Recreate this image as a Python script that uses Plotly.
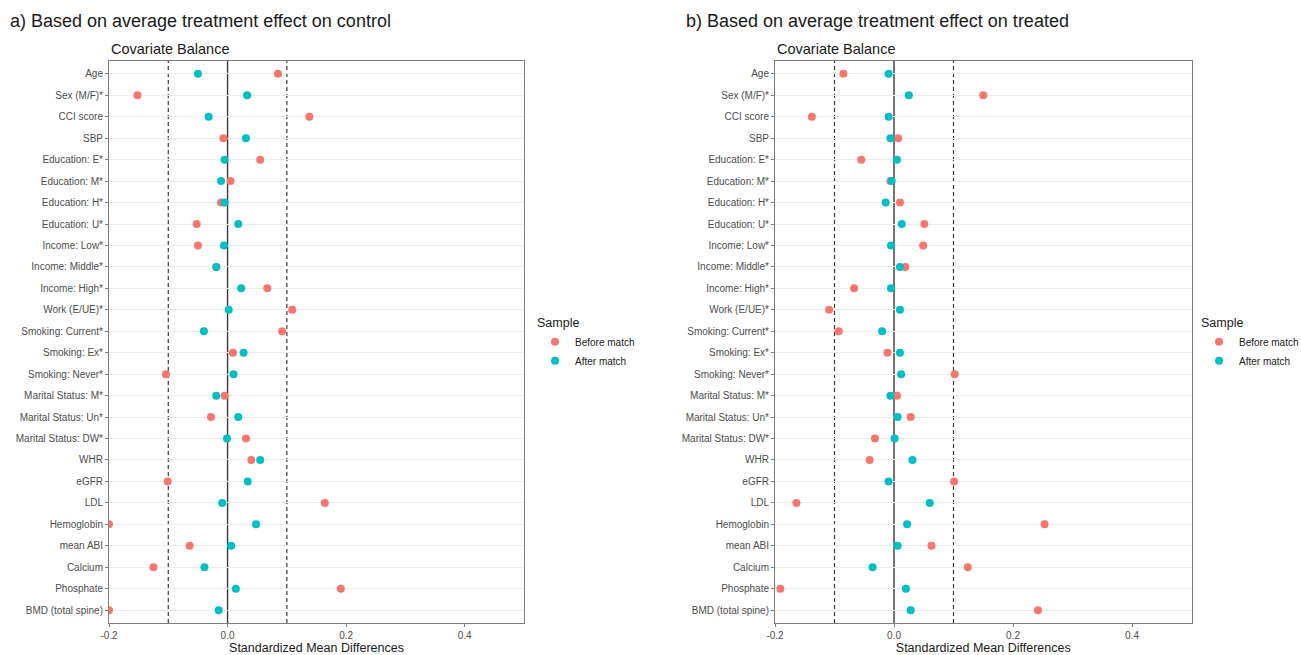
import plotly.graph_objects as go

covariates = ["Age", "Sex (M/F)*", "CCI score", "SBP", "Education: E*", "Education: M*",
              "Education: H*", "Education: U*", "Income: Low*", "Income: Middle*",
              "Income: High*", "Work (E/UE)*", "Smoking: Current*", "Smoking: Ex*",
              "Smoking: Never*", "Marital Status: M*", "Marital Status: Un*",
              "Marital Status: DW*", "WHR", "eGFR", "LDL", "Hemoglobin", "mean ABI",
              "Calcium", "Phosphate", "BMD (total spine)"]

# Panel a) ATC
atc_before = [0.085, -0.152, 0.138, -0.007, 0.055, 0.005, -0.011, -0.052, -0.050, -0.019,
              0.067, 0.109, 0.092, 0.009, -0.104, -0.005, -0.028, 0.031, 0.040, -0.101,
              0.164, -0.200, -0.064, -0.125, 0.191, -0.200]
atc_after = [-0.050, 0.033, -0.032, 0.031, -0.005, -0.011, -0.005, 0.018, -0.006, -0.019,
             0.023, 0.002, -0.040, 0.027, 0.010, -0.019, 0.018, -0.001, 0.055, 0.034,
             -0.009, 0.048, 0.006, -0.039, 0.014, -0.015]

# Panel b) ATT
att_before = [-0.085, 0.150, -0.138, 0.007, -0.055, -0.006, 0.010, 0.051, 0.049, 0.019,
              -0.067, -0.109, -0.093, -0.011, 0.102, 0.005, 0.028, -0.032, -0.041, 0.101,
              -0.164, 0.253, 0.063, 0.124, -0.191, 0.242]
att_after = [-0.009, 0.025, -0.009, -0.006, 0.005, -0.004, -0.014, 0.013, -0.005, 0.010,
             -0.005, 0.010, -0.020, 0.010, 0.012, -0.006, 0.006, 0.001, 0.031, -0.009,
             0.060, 0.022, 0.006, -0.036, 0.020, 0.028]

x_ticks = [-0.2, 0.0, 0.2, 0.4]
x_tick_text = ["-0.2", "0.0", "0.2", "0.4"]
thresholds = [-0.1, 0.1]
series_names = ["Before match", "After match"]
colors = ["#F8766D", "#00BFC4"]

W, H = 1301, 655
FONT = "Liberation Sans, Arial, sans-serif"

fig = go.Figure()

panels = [
    dict(xa="x", ya="y", legend="legend", before=atc_before, after=atc_after),
    dict(xa="x2", ya="y2", legend="legend2", before=att_before, after=att_after),
]
for p in panels:
    for name, vals, col in zip(series_names, [p["before"], p["after"]], colors):
        fig.add_trace(go.Scatter(
            x=vals, y=covariates, mode="markers", name=name,
            marker=dict(color=col, size=8, line=dict(width=0)),
            xaxis=p["xa"], yaxis=p["ya"], legend=p["legend"], cliponaxis=True,
        ))

def px_x(v):
    return v / W

def px_y(v):
    return 1 - v / H

ydom = [px_y(623), px_y(61)]
xdoms = [[px_x(109), px_x(524)], [px_x(775), px_x(1191.5)]]

axis_common = dict(
    showline=True, linecolor="#7f7f7f", linewidth=1, mirror=True,
    ticks="outside", ticklen=3, tickcolor="#7f7f7f", tickwidth=1,
    tickfont=dict(family=FONT, size=10, color="#4D4D4D"),
    zeroline=False, automargin=False,
)

for i, (xa, ya) in enumerate([("xaxis", "yaxis"), ("xaxis2", "yaxis2")]):
    suffix = "" if i == 0 else "2"
    fig.update_layout(**{
        xa: dict(axis_common, domain=xdoms[i], anchor="y" + suffix, range=[-0.2, 0.5],
                 tickvals=x_ticks, ticktext=x_tick_text, showgrid=False,
                 title=dict(text="Standardized Mean Differences",
                            font=dict(family=FONT, size=12.5, color="#1a1a1a"), standoff=1)),
        ya: dict(axis_common, domain=ydom, anchor="x" + suffix, type="category",
                 categoryorder="array", categoryarray=covariates,
                 range=[len(covariates) - 0.4, -0.6],
                 showgrid=True, gridcolor="#EBEBEB", gridwidth=1),
    })
    xref = "x" + suffix
    yref = "y" + suffix + " domain"
    for t in thresholds:
        fig.add_shape(type="line", xref=xref, yref=yref, x0=t, x1=t, y0=0, y1=1,
                      line=dict(color="#3a3a3a", width=1.2, dash="4px,3px"), layer="below")
    fig.add_shape(type="line", xref=xref, yref=yref, x0=0, x1=0, y0=0, y1=1,
                  line=dict(color="#3a3a3a", width=1.4), layer="below")

annotations = [
    dict(text="a) Based on average treatment effect on control", x=px_x(8), y=px_y(21),
         size=18),
    dict(text="b) Based on average treatment effect on treated", x=px_x(684), y=px_y(21),
         size=18),
    dict(text="Covariate Balance", x=px_x(109), y=px_y(48.5), size=14.5),
    dict(text="Covariate Balance", x=px_x(775), y=px_y(48.5), size=14.5),
]
for a in annotations:
    fig.add_annotation(text=a["text"], x=a["x"], y=a["y"], xref="paper", yref="paper",
                       xanchor="left", yanchor="middle", showarrow=False,
                       font=dict(family=FONT, size=a["size"], color="#1a1a1a"))

legend_common = dict(
    title=dict(text="Sample", font=dict(family=FONT, size=12.5, color="#1a1a1a")),
    font=dict(family=FONT, size=10, color="#1a1a1a"),
    bgcolor="rgba(0,0,0,0)", xanchor="left", yanchor="top",
    tracegroupgap=0, itemsizing="trace",
)
fig.update_layout(
    width=W, height=H,
    margin=dict(l=0, r=0, t=0, b=0, autoexpand=False),
    paper_bgcolor="white", plot_bgcolor="white",
    showlegend=True,
    legend=dict(legend_common, x=px_x(535), y=px_y(311)),
    legend2=dict(legend_common, x=px_x(1199), y=px_y(311)),
    font=dict(family=FONT),
)

fig.write_html("out.html")
